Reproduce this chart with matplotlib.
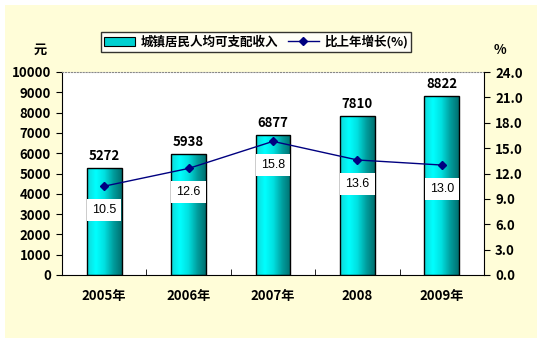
import numpy as np
import matplotlib
matplotlib.use('Agg')
import matplotlib.pyplot as plt
from matplotlib.patches import Rectangle
from matplotlib.colors import LinearSegmentedColormap

plt.rcParams['font.family'] = ['Noto Sans CJK SC', 'DejaVu Sans']

years = ['2005年', '2006年', '2007年', '2008', '2009年']
income = [5272, 5938, 6877, 7810, 8822]
growth = [10.5, 12.6, 15.8, 13.6, 13.0]

fig = plt.figure(figsize=(5.39, 3.43), dpi=100)
fig.patch.set_facecolor('white')
W, H = 539, 343
fig.patches.append(Rectangle((5 / W, 5 / H), 532 / W, 333 / H, transform=fig.transFigure,
                             facecolor='#FFFDD8', edgecolor='none', zorder=-10))

ax = fig.add_axes([62 / W, 1 - 275 / H, 422 / W, 203 / H])
ax.set_facecolor('white')
x = np.arange(len(years))
bw = 0.41

cmap = LinearSegmentedColormap.from_list('bar', ['#10D8D8', '#00FFFF', '#00E0E0', '#00A0A0', '#007070'])
grad = np.linspace(0, 1, 64).reshape(1, -1)
bars = ax.bar(x, income, width=bw, facecolor='none', edgecolor='black', linewidth=1, zorder=3)
for b in bars:
    x0, w, h = b.get_x(), b.get_width(), b.get_height()
    im = ax.imshow(grad, cmap=cmap, aspect='auto', extent=[x0, x0 + w, 0, h], zorder=2)
    im.set_clip_path(b)
for xi, v in zip(x, income):
    ax.text(xi, v + 250, str(v), ha='center', va='bottom', fontsize=9.5, fontweight='bold')

ax.set_xlim(-0.5, len(years) - 0.5)
ax.set_ylim(0, 10000)
ax.set_yticks(range(0, 10001, 1000))
ax.set_yticklabels([str(v) for v in range(0, 10001, 1000)], fontsize=9.5, fontweight='bold')
ax.set_xticks(x)
ax.set_xticklabels(years, fontsize=9.5, fontweight='bold')
ax.set_xticks(np.arange(0.5, len(years) - 1, 1), minor=True)
ax.tick_params(axis='x', which='major', length=0, pad=10)
ax.tick_params(axis='x', which='minor', direction='in', length=4)
ax.tick_params(axis='y', direction='out', length=4, pad=4)
ax.spines['top'].set_color('#888888')
ax.spines['top'].set_linestyle(':')
ax.spines['right'].set_visible(False)

ax2 = ax.twinx()
ax2.set_ylim(0, 24)
ax2.set_yticks(np.arange(0, 24.1, 3))
ax2.set_yticklabels(['%.1f' % v for v in np.arange(0, 24.1, 3)], fontsize=9.5, fontweight='bold')
ax2.tick_params(axis='y', direction='out', length=4, pad=4)
for s in ['top', 'left', 'bottom']:
    ax2.spines[s].set_visible(False)
line, = ax2.plot(x, growth, color='#000080', marker='D', markersize=4, linewidth=1, zorder=5)
for xi, v in zip(x, growth):
    ax2.annotate('%.1f' % v, (xi, v), xytext=(0, -17), textcoords='offset points',
                 ha='center', va='center', fontsize=9, family=['Liberation Sans'],
                 bbox=dict(boxstyle='square,pad=0.4', facecolor='white', edgecolor='none'))

fig.text(40 / W, 1 - 50 / H, '元', ha='center', va='center', fontsize=9.5, fontweight='bold')
fig.text(500 / W, 1 - 50 / H, '%', ha='center', va='center', fontsize=9.5, fontweight='bold')

proxy = Rectangle((0, 0), 1, 1, facecolor='#00D0D0', edgecolor='black', linewidth=0.8)
leg = fig.legend([proxy, line], ['城镇居民人均可支配收入', '比上年增长(%)'], ncol=2,
                 loc='center', bbox_to_anchor=(256 / W, 1 - 42 / H),
                 prop={'weight': 'bold', 'size': 9}, frameon=True, fancybox=False,
                 borderpad=0.25, handlelength=2.5, handletextpad=0.4, columnspacing=0.8)
leg.get_frame().set_edgecolor('black')
leg.get_frame().set_linewidth(1)

fig.savefig('out.png', dpi=100, facecolor=fig.get_facecolor())
